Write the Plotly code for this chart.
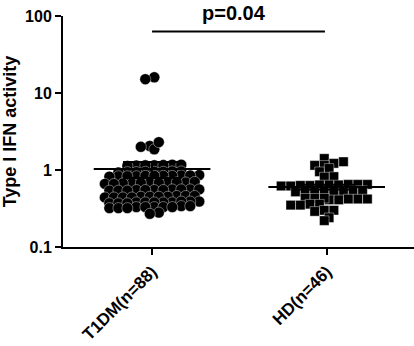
import numpy as np
import plotly.graph_objects as go

# values
groups = ["T1DM(n=88)", "HD(n=46)"]

t1dm = [16.0, 15.1, 2.05, 1.86, 2.0, 2.3,
        1.17, 1.15, 1.14, 1.16, 1.13, 1.15, 1.17,
        0.96, 0.95, 0.94, 0.96, 0.95, 0.93, 0.95, 0.94,
        0.85, 0.84, 0.83, 0.84, 0.86, 0.83, 0.84, 0.85, 0.83, 0.84, 0.82,
        0.69, 0.68, 0.67, 0.69, 0.68, 0.66, 0.69, 0.68, 0.67, 0.7, 0.66,
        0.56, 0.55, 0.54, 0.56, 0.55, 0.54, 0.56, 0.55, 0.56, 0.54, 0.55,
        0.46, 0.45, 0.44, 0.46, 0.45, 0.44, 0.45, 0.44, 0.46, 0.45, 0.44,
        0.39, 0.38, 0.37, 0.39, 0.38, 0.37, 0.38, 0.39, 0.38, 0.38, 0.37,
        0.33, 0.32, 0.33, 0.33, 0.32, 0.33, 0.34, 0.32, 0.33, 0.34,
        0.28, 0.27]

hd = [1.41, 1.28, 1.22, 1.15, 1.15, 1.05, 0.95,
      0.82, 0.81,
      0.65, 0.64, 0.63, 0.65, 0.62, 0.64, 0.63, 0.65, 0.62, 0.64,
      0.53, 0.52, 0.51, 0.54, 0.52, 0.53, 0.51, 0.52, 0.54, 0.53,
      0.43, 0.42, 0.43, 0.41, 0.42, 0.41, 0.42, 0.43,
      0.36, 0.35, 0.36, 0.35,
      0.3, 0.29, 0.3,
      0.24, 0.22]

p_text = "p=0.04"

PX_X = 175.0   # px per category unit
PX_Y = 77.0    # px per decade


def rows_layout(vals, row_h, gap):
    # prism-like scatter: bin by height, spread each bin side by side
    ys = np.log10(vals) * PX_Y
    bins = np.round(ys / row_h).astype(int)
    offs = np.zeros(len(vals))
    for b in np.unique(bins):
        idx = np.where(bins == b)[0]
        idx = idx[np.argsort(np.array(vals)[idx])]
        n = len(idx)
        shift = 0.25 * gap if b % 2 else -0.25 * gap
        for j, i in enumerate(idx):
            offs[i] = (j - (n - 1) / 2.0) * gap + shift
    return offs / PX_X


font = "Liberation Sans, Arial, sans-serif"
fig = go.Figure()

for gi, (vals, sym, gap, sz) in enumerate([(t1dm, "circle", 9.0, 11),
                                            (hd, "square", 9.6, 9.5)]):
    vals = np.array(vals)
    xs = gi + rows_layout(vals, 6.4, gap)
    fig.add_trace(go.Scatter(x=xs, y=vals, mode="markers",
                             marker=dict(symbol=sym, size=sz, color="black",
                                         line=dict(color="white", width=0.4)),
                             showlegend=False, hoverinfo="skip"))
    m = vals.mean()
    sem = vals.std(ddof=1) / np.sqrt(len(vals))
    fig.add_trace(go.Scatter(x=[gi - 0.334, gi + 0.334], y=[m, m], mode="lines",
                             line=dict(color="black", width=2),
                             showlegend=False, hoverinfo="skip"))
    fig.add_trace(go.Scatter(x=[gi], y=[m], mode="markers",
                             marker=dict(size=1, color="rgba(0,0,0,0)"),
                             error_y=dict(type="data", array=[sem], color="black",
                                          thickness=2, width=29),
                             showlegend=False, hoverinfo="skip"))

# significance bar
fig.add_trace(go.Scatter(x=[0, 0.99], y=[62.7, 62.7], mode="lines",
                         line=dict(color="black", width=2),
                         showlegend=False, hoverinfo="skip"))
fig.add_annotation(x=0.47, xref="x", y=1.0, yref="paper", yanchor="middle",
                   yshift=3, text="<b>" + p_text + "</b>", showarrow=False,
                   font=dict(family=font, size=20, color="black"))

fig.update_layout(
    width=414, height=346,
    margin=dict(l=63, r=0, t=16, b=99),
    plot_bgcolor="white", paper_bgcolor="white",
    font=dict(family=font, color="black"),
    xaxis=dict(range=[-0.51, 1.5], tickvals=[0, 1],
               ticktext=["<b>%s</b>" % g for g in groups],
               tickangle=-45, tickfont=dict(size=17), automargin=False,
               showline=True, linecolor="black", linewidth=2,
               ticks="outside", ticklen=6, tickwidth=2, tickcolor="black",
               showgrid=False, zeroline=False),
    yaxis=dict(type="log", range=[-1, 2], tickvals=[0.1, 1, 10, 100],
               ticktext=["<b>0.1</b>", "<b>1</b>", "<b>10</b>", "<b>100</b>"],
               tickfont=dict(size=16), automargin=False,
               ticklabeloverflow="allow",
               showline=True, linecolor="black", linewidth=2,
               ticks="outside", ticklen=6, tickwidth=2, tickcolor="black",
               showgrid=False, zeroline=False,
               title=dict(text="<b>Type I IFN activity</b>",
                          font=dict(size=18), standoff=15)),
)

# drop the default 8px page margin so the figure fills the window
fig.write_html("out.html", config={"displayModeBar": False},
               post_script="document.body.style.margin='0';")
